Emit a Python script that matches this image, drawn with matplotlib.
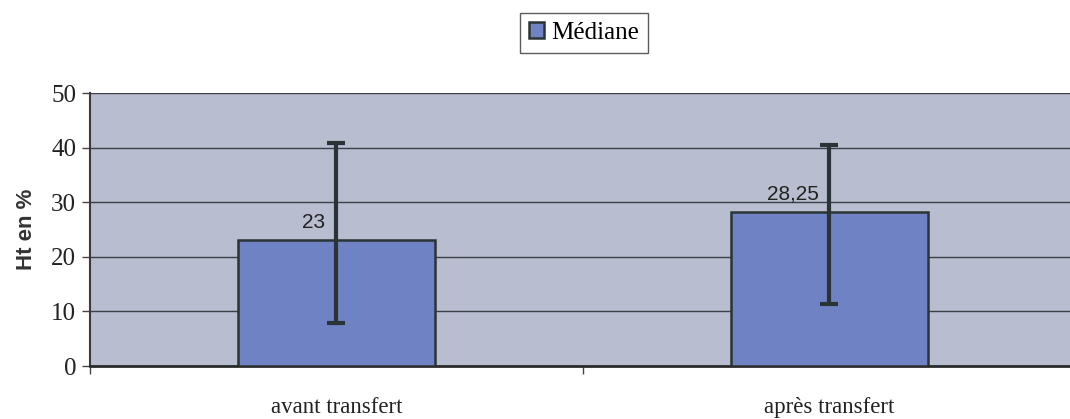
import matplotlib
matplotlib.use("Agg")
import matplotlib.pyplot as plt
import numpy as np

categories = ["avant transfert", "après transfert"]
medians = [23, 28.25]
err_low = [7.9, 11.4]
err_high = [40.8, 40.5]
labels = ["23", "28,25"]
yticks = [0, 10, 20, 30, 40, 50]

bg = "#b8bdcf"
bar_col = "#6f82c4"
edge = "#2b3434"

fig = plt.figure(figsize=(10.70, 4.19), dpi=100)
ax = fig.add_axes([90/1070, 1-366/419, (1076-90)/1070, (366-93)/419])
ax.set_facecolor(bg)

x = np.arange(len(categories))
ax.bar(x, medians, width=0.4, color=bar_col, edgecolor=edge, linewidth=1.8,
       zorder=3, label="Médiane")
lo = np.array(medians) - np.array(err_low)
hi = np.array(err_high) - np.array(medians)
ax.errorbar(x, medians, yerr=[lo, hi], fmt="none", ecolor=edge, elinewidth=3,
            capsize=6.5, capthick=3, zorder=4)

for xi, v, t in zip(x, medians, labels):
    ax.annotate(t, (xi, v), xytext=(-8, 6), textcoords="offset points",
                ha="right", va="bottom", fontsize=15, family="Liberation Sans",
                color="#222222", zorder=5)

ax.set_xlim(-0.5, 1.5)
ax.set_ylim(0, 50)
ax.set_yticks(yticks)
ax.set_yticklabels([str(t) for t in yticks], family="Liberation Serif", fontsize=18,
                   color="#222222")
ax.yaxis.grid(True, color="#3b4048", linewidth=1.0, zorder=1)
ax.set_axisbelow(True)

ax.set_xticks(x)
ax.set_xticklabels(categories, family="Liberation Serif", fontsize=16.5, color="#222222")
ax.tick_params(axis="x", which="major", length=0, pad=22)
ax.set_xticks([-0.5, 0.5], minor=True)
ax.tick_params(axis="x", which="minor", length=6, width=1, color="#444444")
ax.tick_params(axis="y", length=6, width=1, color="#444444", pad=4)

for s in ["top", "right"]:
    ax.spines[s].set_visible(False)
ax.spines["left"].set_color("#3a3a3a")
ax.spines["left"].set_linewidth(1.5)
ax.spines["bottom"].set_color("#2b2b2b")
ax.spines["bottom"].set_linewidth(2)

ax.set_ylabel("Ht en %", fontsize=16, fontweight="bold", family="Liberation Sans",
              color="#333333", labelpad=10)

leg = fig.legend(loc="center", bbox_to_anchor=(584/1070, 1-33/419), frameon=True,
                 fancybox=False, edgecolor="#333333", prop={"family": "Liberation Serif", "size": 18},
                 handlelength=0.6, handleheight=0.6, handletextpad=0.3, borderpad=0.35)
leg.get_frame().set_linewidth(1.0)

fig.savefig("out.png", dpi=100)
